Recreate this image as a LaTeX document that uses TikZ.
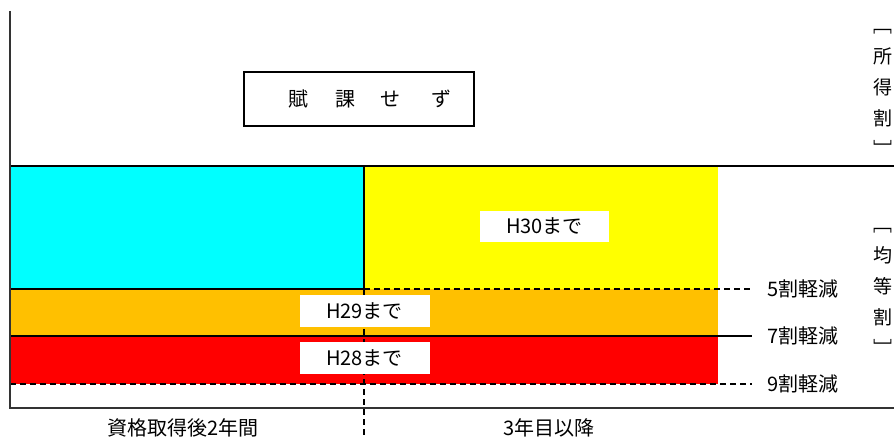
\documentclass[tikz,border=0pt]{standalone}
\usepackage{fontspec}
\setmainfont{Noto Sans CJK JP}
\definecolor{amber}{HTML}{FFC000}
\definecolor{cyanf}{HTML}{00FFFF}
\definecolor{yellowf}{HTML}{FFFF00}
\definecolor{redf}{HTML}{FF0000}
\definecolor{axisc}{HTML}{333333}
\begin{document}
\begin{tikzpicture}[x=1pt,y=-1pt,
  font=\fontsize{20}{22}\selectfont,
  axis/.style={line width=1.5pt, draw=axisc},
  ln/.style={line width=1.3pt, draw=black},
  dsh/.style={line width=1.3pt, draw=black, dash pattern=on 6pt off 4pt},
  whitebox/.style={fill=white, inner sep=0pt, minimum width=130pt, minimum height=31pt},
  lvl/.style={anchor=west, inner sep=0pt},
  vcol/.style={align=center, inner sep=0pt, font=\fontsize{19}{31}\selectfont},
  axlbl/.style={inner sep=0pt}]
\useasboundingbox (0,0) rectangle (894,438);
% coloured bands
\fill[cyanf] (10,166) rectangle (364,289);
\fill[yellowf] (364,166) rectangle (718,289);
\fill[amber] (10,289) rectangle (718,336);
\fill[redf] (10,336) rectangle (718,384);
% named points
\coordinate (top0) at (10,166);
\coordinate (topE) at (894,166);
\coordinate (mid0) at (10,289);
\coordinate (midC) at (364,289);
\coordinate (midE) at (752,289);
\coordinate (sev0) at (10,336);
\coordinate (sevE) at (752,336);
\coordinate (nin0) at (10,384);
\coordinate (ninE) at (752,384);
\coordinate (divT) at (364,166);
\coordinate (divB) at (364,438);
\coordinate (axT) at (10,11);
\coordinate (axO) at (10,408);
\coordinate (axR) at (894,408);
% lines
\draw[ln] (top0) -- (topE);
\draw[ln] (mid0) -- (midC);
\draw[dsh] (midC) -- (midE);
\draw[ln] (sev0) -- (sevE);
\draw[dsh] (nin0) -- (ninE);
\draw[ln] (divT) -- (midC);
\draw[dsh] (midC) -- (divB);
\draw[axis] (axT) -- (axO) -- (axR);
% boxes
\node[draw=black, line width=1.3pt, minimum width=230pt, minimum height=54pt, inner sep=0pt] (fuka) at (359,99)
  {\hspace*{22pt}賦\hspace{27pt}課\hspace{25pt}せ\hspace{31pt}ず};
\node[whitebox, minimum width=129pt] (h30) at (544.5,226.5) {H30まで};
\node[whitebox] (h29) at (364.5,311) {H29まで};
\node[whitebox, minimum height=32pt] (h28) at (364.5,358) {H28まで};
% level labels
\node[lvl] (l5) at (767,289) {5割軽減};
\node[lvl] (l7) at (767,336) {7割軽減};
\node[lvl] (l9) at (767,384) {9割軽減};
% right side vertical labels
\node[vcol] (shotoku) at (883,93) {﹇\\所\\得\\割\\﹈};
\node[vcol] (kinto) at (883,292) {﹇\\均\\等\\割\\﹈};
% axis labels
\node[axlbl] (x1) at (183,428) {資格取得後2年間};
\node[axlbl] (x2) at (549,428) {3年目以降};
\end{tikzpicture}
\end{document}
